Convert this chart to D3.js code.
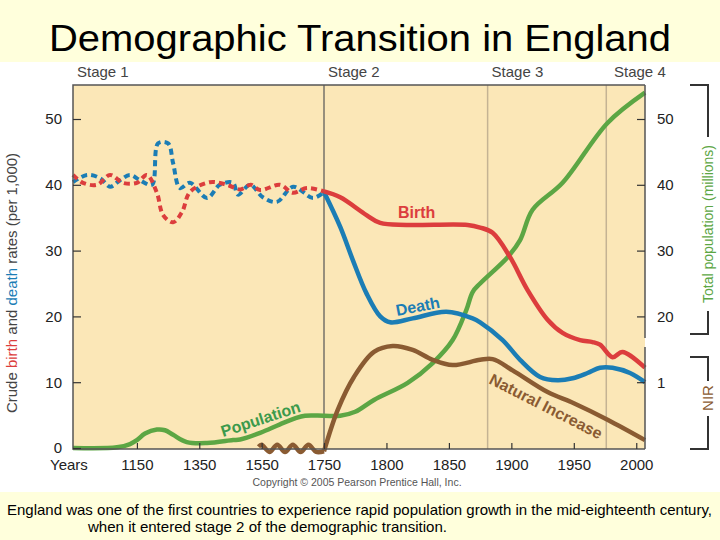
<!DOCTYPE html>
<html lang="en">
<head>
<meta charset="utf-8">
<title>Demographic Transition in England</title>
<script src="https://d3js.org/d3.v7.min.js"></script>
<style>
    body { margin: 0; background: #ffffdc; }
    text { font-family: "Liberation Sans", Arial, sans-serif; }
    .tick line { stroke: #333; stroke-width: 1.2; }
    .tick text { font-size: 15px; fill: #222; }
</style>
</head>
<body>
<div id="chart"></div>
<script>
// ---- data (years, per 1,000 / millions) ----
const birthOldYears = [945, 977, 1022, 1064, 1105, 1150, 1182, 1214, 1234, 1266, 1295, 1320, 1384, 1439, 1481, 1515, 1545, 1609, 1650, 1695, 1750];
const birthOld      = [41.5, 40.3, 40, 41.5, 40.3, 40.3, 41.5, 38.8, 35.4, 34.3, 35.9, 38.9, 40.4, 40, 39.3, 40, 39.2, 40, 38.8, 39.5, 39];
const birthYears = [1750, 1763, 1784, 1795, 1816, 1865, 1875, 1885, 1899, 1913, 1929, 1941, 1955, 1965, 1971, 1981, 1989, 2007];
const birth      = [39, 38.1, 35.4, 34.2, 33.9, 33.9, 33.5, 32.7, 29, 24, 19.5, 17.5, 16.4, 16.1, 15.7, 13.8, 14.6, 12.2];

const deathOldYears = [945, 990, 1032, 1064, 1096, 1128, 1160, 1198, 1218, 1250, 1266, 1288, 1320, 1375, 1416, 1458, 1474, 1513, 1554, 1599, 1651, 1715, 1750];
const deathOld      = [40.4, 41.5, 41, 39.7, 40.7, 41.5, 40.7, 40, 46.3, 46.3, 43.3, 39.5, 40.3, 38, 40, 40.3, 38.5, 40, 38.1, 37.4, 39.7, 38, 38.9];
const deathYears = [1750, 1763, 1773, 1784, 1795, 1803, 1821, 1848, 1869, 1875, 1893, 1907, 1923, 1937, 1949, 1961, 1971, 1981, 1995, 2007];
const death      = [38.9, 33.6, 28.6, 23.5, 20, 19.1, 19.7, 20.7, 19.7, 19.1, 16.4, 13.4, 10.8, 10.3, 10.6, 11.4, 12.2, 12.2, 11.4, 10];

const popYears = [945, 1086, 1128, 1150, 1176, 1214, 1240, 1266, 1310, 1375, 1458, 1481, 1545, 1609, 1657, 1689, 1750, 1763, 1775, 1790, 1817, 1837, 1853, 1864, 1869, 1875, 1897, 1907, 1917, 1941, 1977, 2007];
const population = [0, 0.1, 0.6, 1.2, 2.2, 2.8, 2.7, 2.0, 0.9, 0.75, 1.2, 1.3, 2.3, 3.6, 4.5, 4.9, 4.9, 4.9, 5.5, 7.3, 9.9, 12.9, 16.4, 21, 23.7, 25, 29, 31.6, 36.2, 40.3, 49.4, 54];

const natOldYears = [1540, 1550, 1575, 1600, 1625, 1650, 1675, 1700, 1725, 1750];
const natOld      = [0.2, 0.5, -0.6, 0.5, -0.6, 0.5, -0.6, 0.5, -0.6, -0.5];
const natYears = [1750, 1761, 1774, 1790, 1805, 1821, 1837, 1853, 1875, 1885, 1901, 1929, 1950, 1977, 2007];
const natural  = [-0.5, 5.8, 10.8, 14.6, 15.5, 14.9, 13.4, 12.6, 13.4, 13.5, 11.8, 8.5, 6.8, 4.3, 1.2];

const xTicks = [1150, 1350, 1550, 1750, 1800, 1850, 1900, 1950, 2000];
const yTicks = [0, 10, 20, 30, 40, 50];
const rightTicks = [10, 20, 30, 40, 50];
const stageBreaks = [1750, 1881, 1976];
const stageNames = ["Stage 1", "Stage 2", "Stage 3", "Stage 4"];
const stageStarts = [945, 1750, 1881, 1979];

// ---- layout ----
const width = 720, height = 540;
const plot = {left: 73, right: 645, top: 85, bottom: 449};
const colors = {birth: "#dc3d3d", death: "#1b7db5", pop: "#5ca644", nat: "#8a5b32", tan: "#fbe7b7"};

const svg = d3.select("#chart").append("svg")
    .attr("width", width).attr("height", height);

// slide bands
svg.append("rect").attr("x", 0).attr("y", 0).attr("width", width).attr("height", height).attr("fill", "#ffffdc");
svg.append("rect").attr("x", 0).attr("y", 62).attr("width", width).attr("height", 430).attr("fill", "#ffffff");

svg.append("text")
    .attr("x", 360).attr("y", 51)
    .attr("text-anchor", "middle")
    .attr("font-size", 37)
    .attr("textLength", 622).attr("lengthAdjust", "spacingAndGlyphs")
    .attr("fill", "#000")
    .text("Demographic Transition in England");

// scales: compressed before 1750
const x = d3.scaleLinear().domain([945, 1750, 2007]).range([plot.left, 324, plot.right]);
const y = d3.scaleLinear().domain([0, 50]).range([448, 119]);

svg.append("rect")
    .attr("x", plot.left).attr("y", plot.top)
    .attr("width", plot.right - plot.left).attr("height", plot.bottom - plot.top)
    .attr("fill", colors.tan);

// stage dividers
svg.append("g").selectAll("line")
    .data(stageBreaks)
    .enter().append("line")
    .attr("x1", d => x(d)).attr("x2", d => x(d))
    .attr("y1", plot.top).attr("y2", plot.bottom)
    .attr("stroke", (d, i) => i === 0 ? "#555" : "#c4b393")
    .attr("stroke-width", (d, i) => i === 0 ? 1.2 : 1.5);

svg.append("g").selectAll("text")
    .data(stageNames)
    .enter().append("text")
    .attr("x", (d, i) => x(stageStarts[i]) + 4)
    .attr("y", 77)
    .attr("font-size", 15)
    .attr("fill", "#444")
    .text(d => d);

// lines
const line = d3.line()
    .x(d => x(d[0])).y(d => y(d[1]))
    .curve(d3.curveCatmullRom.alpha(0.5));

function drawLine(years, values, color, dashed) {
    svg.append("path")
        .datum(d3.zip(years, values))
        .attr("d", line)
        .attr("fill", "none")
        .attr("stroke", color)
        .attr("stroke-width", dashed ? 4 : 4.5)
        .attr("stroke-linejoin", "round")
        .attr("stroke-dasharray", dashed ? "6,4" : null);
}

drawLine(popYears, population, colors.pop, false);
drawLine(natOldYears, natOld, colors.nat, false);
drawLine(natYears, natural, colors.nat, false);
drawLine(deathOldYears, deathOld, colors.death, true);
drawLine(deathYears, death, colors.death, false);
drawLine(birthOldYears, birthOld, colors.birth, true);
drawLine(birthYears, birth, colors.birth, false);

// border
svg.append("path")
    .attr("d", `M${plot.right},${plot.top}H${plot.left}V${plot.bottom}H${plot.right}`)
    .attr("fill", "none").attr("stroke", "#555").attr("stroke-width", 1.5);
svg.append("path")
    .attr("d", `M${plot.right},${plot.top}V338M${plot.right},347V${plot.bottom}`)
    .attr("fill", "none").attr("stroke", "#555").attr("stroke-width", 1.5);

// axes
const leftAxis = d3.axisLeft(y).tickValues(yTicks).tickSize(-8).tickPadding(11);
svg.append("g").attr("transform", `translate(${plot.left},0)`).call(leftAxis)
    .call(g => g.select(".domain").remove());

const rightAxis = d3.axisRight(y).tickValues(rightTicks).tickSize(-8).tickPadding(12)
    .tickFormat(d => d === 10 ? "1" : d);
svg.append("g").attr("transform", `translate(${plot.right},0)`).call(rightAxis)
    .call(g => g.select(".domain").remove());

const bottomAxis = d3.axisBottom(x).tickValues(xTicks).tickSize(-6).tickPadding(10).tickFormat(d3.format("d"));
svg.append("g").attr("transform", `translate(0,${plot.bottom})`).call(bottomAxis)
    .call(g => g.select(".domain").remove());

svg.append("text").attr("x", 50).attr("y", 470).attr("font-size", 15).attr("fill", "#222").text("Years");

// left axis title
const ltitle = svg.append("text")
    .attr("transform", "translate(17,283) rotate(-90)")
    .attr("text-anchor", "middle")
    .attr("font-size", 15)
    .attr("fill", "#444");
ltitle.append("tspan").text("Crude ");
ltitle.append("tspan").attr("fill", colors.birth).text("birth");
ltitle.append("tspan").text(" and ");
ltitle.append("tspan").attr("fill", colors.death).text("death");
ltitle.append("tspan").text(" rates (per 1,000)");

// right brackets
svg.append("path")
    .attr("d", "M690,85H708V137M708,311V334H690M690,357H708V381M708,416V449H690")
    .attr("fill", "none").attr("stroke", "#333").attr("stroke-width", 2);
svg.append("text")
    .attr("transform", "translate(713,224) rotate(-90)")
    .attr("text-anchor", "middle")
    .attr("font-size", 14)
    .attr("fill", colors.pop)
    .text("Total population (millions)");
svg.append("text")
    .attr("transform", "translate(713,398) rotate(-90)")
    .attr("text-anchor", "middle")
    .attr("font-size", 15)
    .attr("fill", colors.nat)
    .text("NIR");

// series labels
const labels = [
    {t: "Birth", x: 398, y: 218, r: 0, c: colors.birth},
    {t: "Death", x: 397, y: 316, r: -11, c: colors.death},
    {t: "Population", x: 223, y: 437, r: -18, c: "#3c9a4c"},
    {t: "Natural Increase", x: 488, y: 383, r: 27, c: colors.nat}
];
svg.append("g").selectAll("text")
    .data(labels)
    .enter().append("text")
    .attr("transform", d => `translate(${d.x},${d.y}) rotate(${d.r})`)
    .attr("font-size", 16)
    .attr("font-weight", "bold")
    .attr("fill", d => d.c)
    .text(d => d.t);

// footer
svg.append("text")
    .attr("x", 357).attr("y", 486)
    .attr("text-anchor", "middle")
    .attr("font-size", 10.5)
    .attr("fill", "#555")
    .text("Copyright \u00a9 2005 Pearson Prentice Hall, Inc.");

svg.append("text")
    .attr("x", 7).attr("y", 515)
    .attr("font-size", 15)
    .attr("textLength", 705).attr("lengthAdjust", "spacingAndGlyphs")
    .text("England was one of the first countries to experience rapid population growth in the mid-eighteenth century,");
svg.append("text")
    .attr("x", 88).attr("y", 532)
    .attr("font-size", 15)
    .attr("textLength", 359).attr("lengthAdjust", "spacingAndGlyphs")
    .text("when it entered stage 2 of the demographic transition.");
</script>
</body>
</html>
